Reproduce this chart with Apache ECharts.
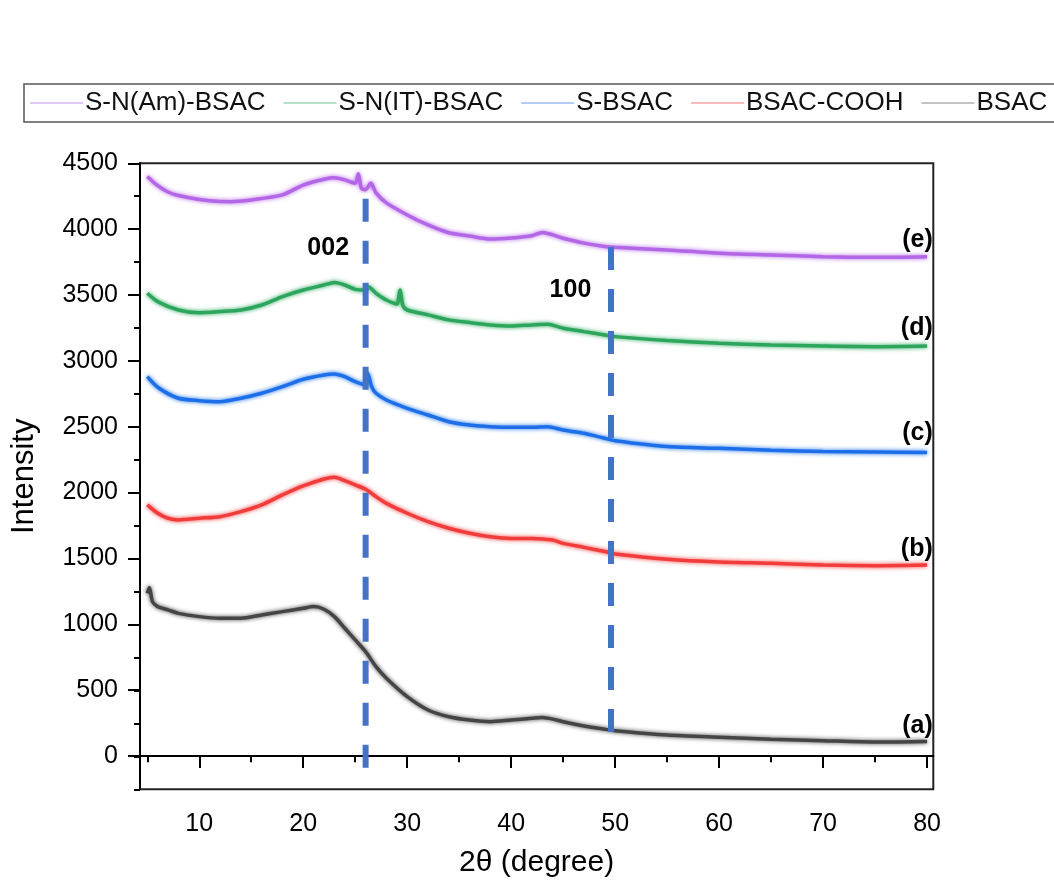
<!DOCTYPE html>
<html>
<head>
<meta charset="utf-8">
<script src="https://cdn.jsdelivr.net/npm/echarts@6/dist/echarts.min.js"></script>
<style>html,body{margin:0;padding:0;background:#fff;}#chart{width:1054px;height:890px;}</style>
</head>
<body>
<div id="chart"></div>
<script>
// ---- data ----
const seriesNames = ['S-N(Am)-BSAC', 'S-N(IT)-BSAC', 'S-BSAC', 'BSAC-COOH', 'BSAC'];

const thetaE = [5,6,7,8,10,12,13,15,18,20,22,23,24,25,25.3,25.6,26,26.5,27,28,30,32,34,36,38,40,42,43,45,47,49,50,55,60,65,70,75,80];
const intenE = [4400,4330,4282,4255,4225,4210,4209,4222,4260,4335,4379,4390,4374,4348,4420,4310,4300,4350,4275,4199,4108,4032,3973,3948,3925,3933,3950,3975,3931,3894,3868,3862,3842,3817,3804,3791,3786,3791];

const thetaD = [5,6,8,10,12,14,16,18,20,22,23,24,25,26,26.3,27,28,29,29.3,29.6,30,32,34,36,38,40,42,43.5,45,47,49,50,55,60,65,70,75,80];
const intenD = [3513,3450,3386,3366,3374,3386,3424,3488,3538,3576,3595,3576,3543,3538,3560,3513,3462,3432,3538,3417,3386,3349,3311,3291,3273,3265,3273,3278,3248,3222,3197,3184,3154,3134,3121,3113,3108,3113];

const thetaC = [5,6,8,10,12,14,16,18,20,22,23,24,25,26,26.2,26.6,27,28,30,32,34,36,38,40,42,43.5,45,47,49,50,55,60,65,70,75,80];
const intenC = [2880,2800,2716,2698,2690,2716,2754,2804,2860,2893,2900,2880,2842,2817,2906,2800,2754,2703,2640,2589,2538,2513,2500,2495,2495,2500,2475,2450,2412,2394,2349,2336,2322,2312,2308,2305];

const thetaB = [5,6,7,8,10,12,14,16,18,20,22,23,24,25,26,27,28,30,32,34,36,38,40,42,44,45,47,49,50,55,60,65,70,75,80];
const intenB = [1906,1843,1805,1792,1805,1817,1855,1906,1982,2050,2103,2116,2090,2058,2025,1969,1918,1843,1779,1729,1691,1665,1652,1652,1640,1614,1584,1552,1534,1494,1473,1463,1450,1445,1450];

const thetaA = [5,5.2,5.5,6,7,8,10,12,14,16,18,20,21,22,23,24,25,26,27,28,30,32,34,36,38,40,42,43,44,45,47,49,50,55,60,65,70,75,80];
const intenA = [1235,1280,1172,1134,1109,1083,1058,1046,1046,1071,1096,1121,1134,1114,1058,970,881,792,678,590,450,349,298,273,260,273,286,292,280,260,228,203,192,159,142,127,116,106,109];

// reference (dashed) lines: 2θ position and vertical extent
const peak002 = { theta: 26, from: 4230, to: -110 };
const peak100 = { theta: 49.6, from: 3865, to: 182 };

const xTickLabels = [10,20,30,40,50,60,70,80];
const xMinorTicks = [5,15,25,35,45,55,65,75];
const yTickLabels = [0,500,1000,1500,2000,2500,3000,3500,4000,4500];

const annoText = ['002','100'];
const annoTheta = [22.4, 45.7];
const annoInten = [3857, 3538];
const curveLabels = ['(e)','(d)','(c)','(b)','(a)'];
const curveLabelInten = [3918, 3250, 2453, 1572, 228];
const curveLabelTheta = 80.55;

// ---- chart ----
const FONT = '"Liberation Sans", Arial, sans-serif';
const colors = ['#b366e6', '#2ca65c', '#1c6fe8', '#f23c3c', '#454545'];
const legendColors = ['#d7b4f0', '#9fd6b4', '#9dbdf2', '#f6a4a4', '#b0b0b0'];

function zip(xs, ys) { return xs.map((x, i) => [x, ys[i]]); }
const curves = [zip(thetaE, intenE), zip(thetaD, intenD), zip(thetaC, intenC), zip(thetaB, intenB), zip(thetaA, intenA)];

const chart = echarts.init(document.getElementById('chart'), null, { renderer: 'canvas' });

const series = curves.map((d, i) => ({
  name: seriesNames[i],
  type: 'line',
  data: d,
  symbol: 'none',
  showSymbol: false,
  smooth: 0.25,
  lineStyle: { color: colors[i], width: 3.5, shadowBlur: 4, shadowColor: colors[i] },
  itemStyle: { color: colors[i] },
  z: 3,
  animation: false
}));

[peak002, peak100].forEach((p, i) => {
  series.push({
    name: 'ref' + i,
    type: 'line',
    data: [[p.theta, p.from], [p.theta, p.to]],
    symbol: 'none',
    lineStyle: { color: '#4472c4', width: 6, type: [23, 19], cap: 'butt' },
    z: 4,
    animation: false,
    silent: true
  });
});

const labelStyle = { color: '#000', fontSize: 25, fontWeight: 'bold', fontFamily: FONT, textBorderWidth: 0 };
series.push({
  name: 'anno',
  type: 'scatter',
  data: annoText.map((t, i) => ({ value: [annoTheta[i], annoInten[i]], name: t })),
  symbolSize: 0,
  itemStyle: { opacity: 1 },
  label: Object.assign({ show: true, position: 'inside', formatter: p => p.name }, labelStyle),
  silent: true, z: 5, animation: false
});
series.push({
  name: 'curveLabels',
  type: 'scatter',
  data: curveLabels.map((t, i) => ({ value: [curveLabelTheta, curveLabelInten[i]], name: t })),
  symbolSize: 0,
  itemStyle: { opacity: 1 },
  label: Object.assign({ show: true, position: 'left', distance: 0, formatter: p => p.name }, labelStyle),
  silent: true, z: 5, animation: false
});

const option = {
  backgroundColor: '#fff',
  animation: false,
  textStyle: { fontFamily: FONT },
  legend: {
    show: true,
    left: 24,
    top: 84,
    width: 1300,
    orient: 'horizontal',
    padding: [6, 60, 6, 6],
    itemGap: 18,
    itemWidth: 53,
    itemHeight: 1.5,
    icon: 'rect',
    borderColor: '#555',
    borderWidth: 1.5,
    textStyle: { fontSize: 26, color: '#111', fontFamily: FONT, padding: [0, 0, 0, -3] },
    data: seriesNames.map((n, i) => ({ name: n, icon: 'rect', itemStyle: { color: legendColors[i] } }))
  },
  grid: {
    left: 140, right: 120.7, top: 163.3, bottom: 100.7,
    show: true, borderColor: '#222', borderWidth: 2,
    outerBoundsMode: 'none', containLabel: false
  },
  xAxis: [{
    type: 'value', min: 4.3, max: 80.6,
    name: '2θ (degree)', nameLocation: 'middle', nameGap: 58,
    nameTextStyle: { fontSize: 30, color: '#000', fontFamily: FONT },
    axisLine: { show: true, lineStyle: { color: '#000', width: 2 } },
    axisTick: { show: true, customValues: xTickLabels, length: 12, inside: false, lineStyle: { color: '#000', width: 2 } },
    axisLabel: { show: true, customValues: xTickLabels, fontSize: 25, color: '#000', margin: 22, fontFamily: FONT, formatter: v => String(v) },
    splitLine: { show: false }
  }, {
    type: 'value', min: 4.3, max: 80.6, position: 'bottom', offset: 0,
    axisLine: { show: false },
    axisTick: { show: true, customValues: xMinorTicks, length: 6, lineStyle: { color: '#000', width: 2 } },
    axisLabel: { show: false },
    splitLine: { show: false }
  }],
  yAxis: [{
    type: 'value', min: -253, max: 4500,
    name: 'Intensity', nameLocation: 'middle', nameGap: 100, nameRotate: 90,
    nameTextStyle: { fontSize: 31, color: '#000', fontFamily: FONT },
    axisLine: { show: true, lineStyle: { color: '#000', width: 2 } },
    axisTick: { show: true, customValues: yTickLabels, length: 12, lineStyle: { color: '#000', width: 2 } },
    axisLabel: { show: true, customValues: yTickLabels, fontSize: 25, color: '#000', margin: 22, fontFamily: FONT, formatter: v => String(v) },
    splitLine: { show: false }
  }, {
    type: 'value', min: -250, max: 4500, interval: 250, position: 'left', offset: 0,
    axisLine: { show: false },
    axisTick: { show: true, length: 6, lineStyle: { color: '#000', width: 2 } },
    axisLabel: { show: false },
    splitLine: { show: false }
  }],
  series: series
};

chart.setOption(option);
</script>
</body>
</html>
